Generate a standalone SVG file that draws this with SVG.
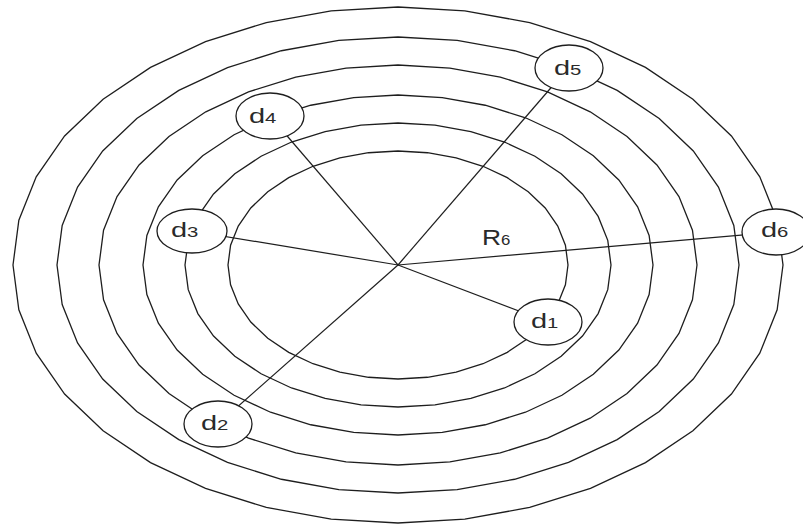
<svg xmlns="http://www.w3.org/2000/svg" xmlns:xlink="http://www.w3.org/1999/xlink" width="803" height="525" viewBox="0 0 803 525">
<style>
.ring{fill:none;stroke:#1e1e1e;stroke-width:1.3;vector-effect:non-scaling-stroke}
.link{stroke:#1e1e1e;stroke-width:1.2;fill:none}
.node{fill:#fff;stroke:#1e1e1e;stroke-width:1.3}
.lbl{font-family:"Liberation Sans",Arial,sans-serif;font-size:20px;fill:#2a2a2a}
.sub{font-size:14px}
</style>
<defs>
<polygon id="ring" class="ring" points="100,0 98.48,17.36 93.97,34.2 86.6,50 76.6,64.28 64.28,76.6 50,86.6 34.2,93.97 17.36,98.48 0,100 -17.36,98.48 -34.2,93.97 -50,86.6 -64.28,76.6 -76.6,64.28 -86.6,50 -93.97,34.2 -98.48,17.36 -100,0 -98.48,-17.36 -93.97,-34.2 -86.6,-50 -76.6,-64.28 -64.28,-76.6 -50,-86.6 -34.2,-93.97 -17.36,-98.48 0,-100 17.36,-98.48 34.2,-93.97 50,-86.6 64.28,-76.6 76.6,-64.28 86.6,-50 93.97,-34.2 98.48,-17.36"/>
</defs>
<rect width="803" height="525" fill="#fff"/>
<g id="rings">
<use xlink:href="#ring" transform="translate(398 265) scale(1.70 1.14)"/>
<use xlink:href="#ring" transform="translate(398 265) scale(2.13 1.42)"/>
<use xlink:href="#ring" transform="translate(398 265) scale(2.55 1.70)"/>
<use xlink:href="#ring" transform="translate(398 265) scale(2.99 2.00)"/>
<use xlink:href="#ring" transform="translate(398 265) scale(3.41 2.28)"/>
<use xlink:href="#ring" transform="translate(398 265) scale(3.85 2.58)"/>
</g>
<g id="connectors">
<line class="link" x1="398" y1="265" x2="548" y2="322"/>
<line class="link" x1="398" y1="265" x2="218" y2="424"/>
<line class="link" x1="398" y1="265" x2="192" y2="231"/>
<line class="link" x1="398" y1="265" x2="270" y2="116"/>
<line class="link" x1="398" y1="265" x2="568" y2="68"/>
<line class="link" x1="398" y1="265" x2="776" y2="232"/>
</g>
<g id="d1"><ellipse class="node" cx="548" cy="322" rx="34" ry="23"/><text class="lbl" transform="translate(531 328) scale(1.45 1)">d<tspan class="sub">1</tspan></text></g>
<g id="d2"><ellipse class="node" cx="218" cy="424" rx="34" ry="23"/><text class="lbl" transform="translate(201 430) scale(1.45 1)">d<tspan class="sub">2</tspan></text></g>
<g id="d3"><ellipse class="node" cx="192" cy="231" rx="35" ry="22"/><text class="lbl" transform="translate(171 237) scale(1.45 1)">d<tspan class="sub">3</tspan></text></g>
<g id="d4"><ellipse class="node" cx="270" cy="116" rx="34" ry="23"/><text class="lbl" transform="translate(249 123) scale(1.45 1)">d<tspan class="sub">4</tspan></text></g>
<g id="d5"><ellipse class="node" cx="569" cy="68" rx="34" ry="23"/><text class="lbl" transform="translate(554 75) scale(1.45 1)">d<tspan class="sub">5</tspan></text></g>
<g id="d6"><ellipse class="node" cx="776" cy="232" rx="34" ry="23"/><text class="lbl" transform="translate(761 237) scale(1.45 1)">d<tspan class="sub">6</tspan></text></g>
<g id="R6"><text class="lbl" font-size="22" transform="translate(482 245) scale(1.2 1)" style="font-size:22px">R<tspan class="sub">6</tspan></text></g>
</svg>
